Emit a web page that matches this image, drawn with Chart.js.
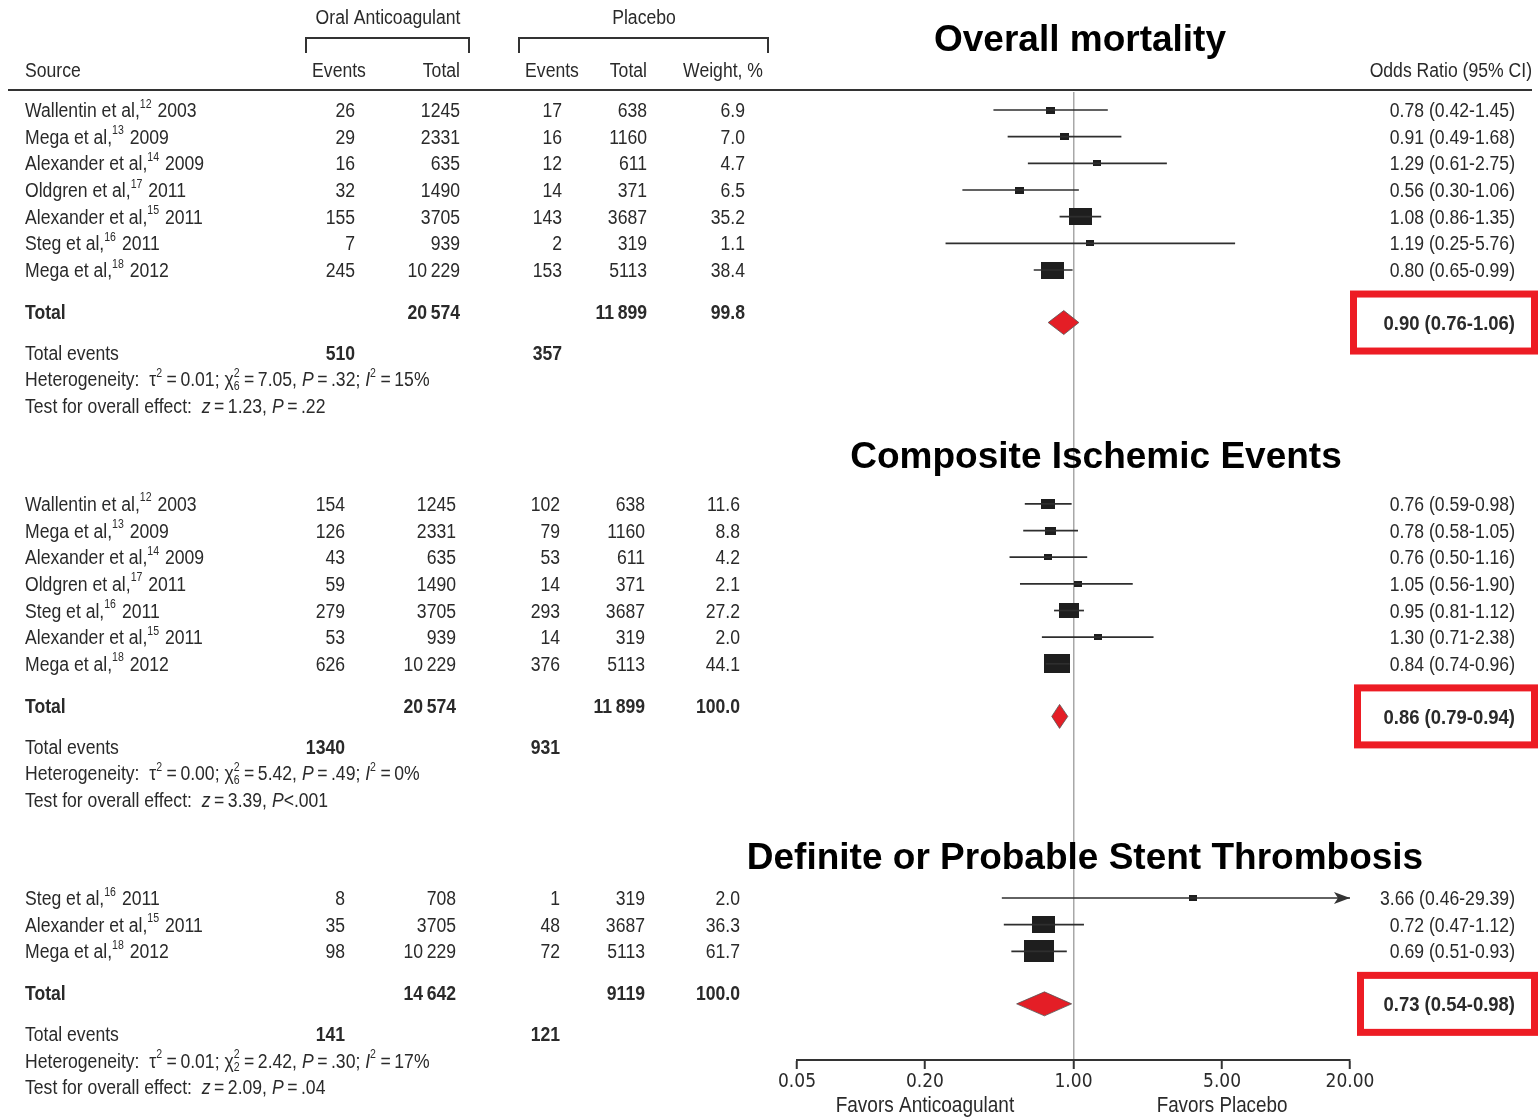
<!DOCTYPE html>
<html>
<head>
<meta charset="utf-8">
<script src="https://cdn.jsdelivr.net/npm/chart.js@4.4.0/dist/chart.umd.min.js"></script>
<style>
  html, body { margin: 0; padding: 0; background: #fff; }
  canvas { display: block; }
</style>
</head>
<body>
<canvas id="forest" width="1540" height="1117"></canvas>
<script>
// ---- data ----
var sectionTitles = ["Overall mortality", "Composite Ischemic Events", "Definite or Probable Stent Thrombosis"];

var studyAuthors = [
  ["Wallentin et al,", "Mega et al,", "Alexander et al,", "Oldgren et al,", "Alexander et al,", "Steg et al,", "Mega et al,"],
  ["Wallentin et al,", "Mega et al,", "Alexander et al,", "Oldgren et al,", "Steg et al,", "Alexander et al,", "Mega et al,"],
  ["Steg et al,", "Alexander et al,", "Mega et al,"]
];
var studyRefs = [
  ["12", "13", "14", "17", "15", "16", "18"],
  ["12", "13", "14", "17", "16", "15", "18"],
  ["16", "15", "18"]
];
var studyYears = [
  ["2003", "2009", "2009", "2011", "2011", "2011", "2012"],
  ["2003", "2009", "2009", "2011", "2011", "2011", "2012"],
  ["2011", "2011", "2012"]
];
var oralEvents = [[26, 29, 16, 32, 155, 7, 245], [154, 126, 43, 59, 279, 53, 626], [8, 35, 98]];
var oralTotals = [[1245, 2331, 635, 1490, 3705, 939, 10229], [1245, 2331, 635, 1490, 3705, 939, 10229], [708, 3705, 10229]];
var placeboEvents = [[17, 16, 12, 14, 143, 2, 153], [102, 79, 53, 14, 293, 14, 376], [1, 48, 72]];
var placeboTotals = [[638, 1160, 611, 371, 3687, 319, 5113], [638, 1160, 611, 371, 3687, 319, 5113], [319, 3687, 5113]];
var weights = [[6.9, 7.0, 4.7, 6.5, 35.2, 1.1, 38.4], [11.6, 8.8, 4.2, 2.1, 27.2, 2.0, 44.1], [2.0, 36.3, 61.7]];
var oddsRatios = [[0.78, 0.91, 1.29, 0.56, 1.08, 1.19, 0.80], [0.76, 0.78, 0.76, 1.05, 0.95, 1.30, 0.84], [3.66, 0.72, 0.69]];
var ciLow = [[0.42, 0.49, 0.61, 0.30, 0.86, 0.25, 0.65], [0.59, 0.58, 0.50, 0.56, 0.81, 0.71, 0.74], [0.46, 0.47, 0.51]];
var ciHigh = [[1.45, 1.68, 2.75, 1.06, 1.35, 5.76, 0.99], [0.98, 1.05, 1.16, 1.90, 1.12, 2.38, 0.96], [29.39, 1.12, 0.93]];

var totalOral = [20574, 20574, 14642];
var totalPlacebo = [11899, 11899, 9119];
var totalWeight = [99.8, 100.0, 100.0];
var totalOralEvents = [510, 1340, 141];
var totalPlaceboEvents = [357, 931, 121];
var pooledOR = [0.90, 0.86, 0.73];
var pooledLow = [0.76, 0.79, 0.54];
var pooledHigh = [1.06, 0.94, 0.98];

var tau2 = ["0.01", "0.00", "0.01"];
var chi2 = ["7.05", "5.42", "2.42"];
var chiDf = ["6", "6", "2"];
var pHet = [".32", ".49", ".30"];
var iSquared = ["15", "0", "17"];
var zTest = ["1.23", "3.39", "2.09"];
var pTestOp = ["=", "<", "="];
var pTest = [".22", ".001", ".04"];

var xTicks = [0.05, 0.2, 1, 5, 20];
var xMin = 0.05, xMax = 20;

// ---- layout ----
var FONT = '"Liberation Sans", Arial, sans-serif';
var TICK_FONT = '"DejaVu Sans Condensed", "Liberation Sans", sans-serif';
var TITLE_FONT = 'bold 37px "Liberation Sans", Arial, sans-serif';
var TEXT = "#2a2a2a";
var FS = 20;
var SX = 0.88;   // horizontal squeeze, the figure uses a condensed face
var sectionStart = [0, 14.77, 29.55];
var titlePos = [[1080, 41], [1096, 458], [1085, 859]];
var colRight = [[355, 460, 562, 647, 745], [345, 456, 560, 645, 740], [345, 456, 560, 645, 740]];
var boxLeft = [1350, 1354, 1357];

function fmtNum(n) {
  var s = String(n);
  if (n >= 10000) s = s.slice(0, s.length - 3) + "\u2009" + s.slice(s.length - 3);
  return s;
}
function fmtOR(o, l, h) {
  return o.toFixed(2) + " (" + l.toFixed(2) + "-" + h.toFixed(2) + ")";
}

// squeezed text, returns drawn width
function put(ctx, s, x, y, align, style, size) {
  size = size || FS;
  ctx.save();
  ctx.font = (style || "") + " " + size + "px " + FONT;
  ctx.textAlign = align || "left";
  ctx.translate(x, y);
  ctx.scale(SX, 1);
  ctx.fillText(s, 0, 0);
  var w = ctx.measureText(s).width * SX;
  ctx.restore();
  return w;
}

// rich text: parts = [text, kind]  kind: '' | 'b' | 'i' | 'sup' | 'ss'
function drawRich(ctx, x, y, parts) {
  var sm = Math.round(FS * 0.6);
  parts.forEach(function (p) {
    var t = p[0], k = p[1] || "";
    if (k === "sup") {
      x += put(ctx, t, x, y - FS * 0.36, "left", "", sm) + 1;
    } else if (k === "ss") {
      var a = t.split("|");
      var w1 = put(ctx, a[0], x, y - FS * 0.36, "left", "", sm);
      var w2 = put(ctx, a[1], x, y + FS * 0.3, "left", "", sm);
      x += Math.max(w1, w2) + 1;
    } else {
      x += put(ctx, t, x, y, "left", k === "i" ? "italic" : (k === "b" ? "bold" : ""));
    }
  });
}

function rectIcon(w) {
  var h = Math.max(6, Math.round(2.8 * Math.sqrt(w)));
  var wd = Math.max(7, Math.round(h * 1.35));
  var c = document.createElement("canvas");
  c.width = wd; c.height = h;
  var g = c.getContext("2d");
  g.fillStyle = "#1e1e1e";
  g.fillRect(0, 0, wd, h);
  return c;
}

// ---- datasets ----
var datasets = [];
var pts = [], icons = [];
for (var s = 0; s < 3; s++) {
  for (var i = 0; i < oddsRatios[s].length; i++) {
    var row = sectionStart[s] + i;
    datasets.push({
      data: [{ x: ciLow[s][i], y: row }, { x: Math.min(ciHigh[s][i], xMax), y: row }],
      showLine: true,
      borderColor: "#2e2e2e",
      borderWidth: 1.7,
      pointRadius: 0
    });
    pts.push({ x: oddsRatios[s][i], y: row });
    icons.push(rectIcon(weights[s][i]));
  }
}
datasets.push({
  data: pts,
  pointStyle: icons,
  pointRadius: 3,
  showLine: false
});

var forestPlugin = {
  id: "forest",
  afterDatasetsDraw: function (chart) {
    var ctx = chart.ctx, xs = chart.scales.x, ys = chart.scales.y;
    ctx.save();
    for (var s = 0; s < 3; s++) {
      // arrows for intervals running past the axis
      for (var i = 0; i < ciHigh[s].length; i++) {
        if (ciHigh[s][i] > xMax) {
          var ax = xs.getPixelForValue(xMax), ay = ys.getPixelForValue(sectionStart[s] + i);
          ctx.fillStyle = "#333";
          ctx.beginPath();
          ctx.moveTo(ax, ay);
          ctx.lineTo(ax - 16, ay - 6);
          ctx.lineTo(ax - 12, ay);
          ctx.lineTo(ax - 16, ay + 6);
          ctx.closePath();
          ctx.fill();
        }
      }
      // pooled diamond
      var n = oddsRatios[s].length;
      var dy = ys.getPixelForValue(sectionStart[s] + n + 0.97);
      var xl = xs.getPixelForValue(pooledLow[s]), xc = xs.getPixelForValue(pooledOR[s]), xr = xs.getPixelForValue(pooledHigh[s]);
      ctx.beginPath();
      ctx.moveTo(xl, dy);
      ctx.lineTo(xc, dy - 12);
      ctx.lineTo(xr, dy);
      ctx.lineTo(xc, dy + 12);
      ctx.closePath();
      ctx.fillStyle = "#e41e26";
      ctx.fill();
      ctx.strokeStyle = "#555";
      ctx.lineWidth = 0.8;
      ctx.stroke();
    }
    ctx.restore();
  },
  afterDraw: function (chart) {
    var ctx = chart.ctx, xs = chart.scales.x, ys = chart.scales.y;
    var off = 1.5; // text visual centre sits a little low
    ctx.save();
    ctx.fillStyle = TEXT;
    ctx.strokeStyle = "#333";
    ctx.textBaseline = "middle";

    // column headers
    put(ctx, "Oral Anticoagulant", 388, 18, "center");
    put(ctx, "Placebo", 644, 18, "center");
    put(ctx, "Events", 339, 71, "center");
    put(ctx, "Events", 552, 71, "center");
    put(ctx, "Total", 460, 71, "right");
    put(ctx, "Total", 647, 71, "right");
    put(ctx, "Weight, %", 763, 71, "right");
    put(ctx, "Odds Ratio (95% CI)", 1532, 71, "right");
    put(ctx, "Source", 25, 71, "left");

    ctx.lineWidth = 2;
    ctx.beginPath();
    ctx.moveTo(306, 53); ctx.lineTo(306, 38); ctx.lineTo(469, 38); ctx.lineTo(469, 53);
    ctx.moveTo(519, 53); ctx.lineTo(519, 38); ctx.lineTo(768, 38); ctx.lineTo(768, 53);
    ctx.moveTo(8, 90); ctx.lineTo(1532, 90);
    ctx.stroke();

    for (var s = 0; s < 3; s++) {
      var c = colRight[s], n = oddsRatios[s].length, st = sectionStart[s];

      ctx.fillStyle = "#000";
      ctx.font = TITLE_FONT;
      ctx.textAlign = "center";
      ctx.fillText(sectionTitles[s], titlePos[s][0], titlePos[s][1]);
      ctx.fillStyle = TEXT;

      for (var i = 0; i < n; i++) {
        var y = ys.getPixelForValue(st + i) + off;
        drawRich(ctx, 25, y, [[studyAuthors[s][i]], [studyRefs[s][i], "sup"], [" " + studyYears[s][i]]]);
        put(ctx, String(oralEvents[s][i]), c[0], y, "right");
        put(ctx, fmtNum(oralTotals[s][i]), c[1], y, "right");
        put(ctx, String(placeboEvents[s][i]), c[2], y, "right");
        put(ctx, fmtNum(placeboTotals[s][i]), c[3], y, "right");
        put(ctx, weights[s][i].toFixed(1), c[4], y, "right");
        put(ctx, fmtOR(oddsRatios[s][i], ciLow[s][i], ciHigh[s][i]), 1515, y, "right");
      }

      // totals
      var ty = ys.getPixelForValue(st + n + 0.58) + off;
      put(ctx, "Total", 25, ty, "left", "bold");
      put(ctx, fmtNum(totalOral[s]), c[1], ty, "right", "bold");
      put(ctx, fmtNum(totalPlacebo[s]), c[3], ty, "right", "bold");
      put(ctx, totalWeight[s].toFixed(1), c[4], ty, "right", "bold");

      var dy = ys.getPixelForValue(st + n + 0.97);
      put(ctx, fmtOR(pooledOR[s], pooledLow[s], pooledHigh[s]), 1515, dy + off, "right", "bold", 21);
      ctx.strokeStyle = "#ed1c24";
      ctx.lineWidth = 7;
      ctx.strokeRect(boxLeft[s] + 3.5, dy - 32 + 3.5, 1538 - boxLeft[s] - 7, 64 - 7);
      ctx.strokeStyle = "#333";

      var ey = ys.getPixelForValue(st + n + 2.1) + off;
      put(ctx, String(totalOralEvents[s]), c[0], ey, "right", "bold");
      put(ctx, String(totalPlaceboEvents[s]), c[2], ey, "right", "bold");
      put(ctx, "Total events", 25, ey, "left");

      var hy = ys.getPixelForValue(st + n + 3.1) + off;
      drawRich(ctx, 25, hy, [
        ["Heterogeneity:  \u03c4"], ["2", "sup"], ["\u2009=\u2009" + tau2[s] + "; \u03c7"], ["2|" + chiDf[s], "ss"],
        ["\u2009=\u2009" + chi2[s] + ", "], ["P", "i"], ["\u2009=\u2009" + pHet[s] + "; "], ["I", "i"], ["2", "sup"],
        ["\u2009=\u2009" + iSquared[s] + "%"]
      ]);
      var zy = ys.getPixelForValue(st + n + 4.1) + off;
      drawRich(ctx, 25, zy, [
        ["Test for overall effect:  "], ["z", "i"], ["\u2009=\u2009" + zTest[s] + ", "], ["P", "i"],
        [(pTestOp[s] === "=" ? "\u2009=\u2009" : "<") + pTest[s]]
      ]);
    }

    // axis captions
    put(ctx, "Favors Anticoagulant", xs.getPixelForValue(0.2), 1106, "center", "", 21.6);
    put(ctx, "Favors Placebo", xs.getPixelForValue(5), 1106, "center", "", 21.4);
    ctx.restore();
  }
};

new Chart(document.getElementById("forest").getContext("2d"), {
  type: "scatter",
  data: { datasets: datasets },
  options: {
    responsive: false,
    animation: false,
    events: [],
    layout: { padding: { left: 797, right: 190, top: 92, bottom: 0 }, autoPadding: false },
    plugins: { legend: { display: false }, tooltip: { enabled: false } },
    scales: {
      x: {
        type: "logarithmic",
        min: xMin,
        max: xMax,
        afterBuildTicks: function (scale) {
          scale.ticks = xTicks.map(function (v) { return { value: v }; });
        },
        afterFit: function (scale) { scale.height = 57; },
        ticks: {
          autoSkip: false,
          maxRotation: 0,
          padding: 2,
          color: TEXT,
          font: { family: TICK_FONT, size: 19 },
          callback: function (v) { return Number(v).toFixed(2); }
        },
        grid: {
          color: function (c) { return c.tick && c.tick.value === 1 ? "#a8a8a8" : "rgba(0,0,0,0)"; },
          lineWidth: 1.5,
          tickColor: "#333",
          tickWidth: 2,
          tickLength: 9
        },
        border: { color: "#333", width: 2 }
      },
      y: {
        type: "linear",
        reverse: true,
        min: -0.675,
        max: 35.625,
        display: false
      }
    }
  },
  plugins: [forestPlugin]
});
</script>
</body>
</html>
